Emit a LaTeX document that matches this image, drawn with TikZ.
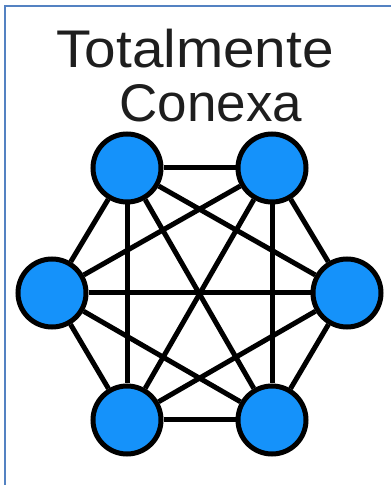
\documentclass[tikz,border=0pt]{standalone}
\usepackage{fontspec}
\setmainfont{Liberation Sans}
\usepackage{xcolor}
\usetikzlibrary{positioning}
\definecolor{netBlue}{HTML}{1592FA}
\definecolor{frameBlue}{HTML}{5482C2}
\definecolor{inkGray}{HTML}{1E1E1E}
\tikzset{
  vert/.style={circle,draw=black,fill=netBlue,line width=5pt,minimum size=68pt,inner sep=0pt},
  link/.style={draw=black,line width=5pt},
  title/.style={anchor=base,text=inkGray,font=\fontsize{53}{60}\selectfont}
}
\begin{document}
\begin{tikzpicture}[x=1pt,y=1pt]
  \useasboundingbox (0,0) rectangle (391,485);
  \fill[white] (0,0) rectangle (391,485);
  % frame
  \draw[frameBlue,line width=2pt] (5,0) -- (5,479) -- (391,479);

  \node[title,xscale=1.07] (t1) at (195,417) {Totalmente};
  \node[title] (t2) at (211,363) {Conexa};

  \node[vert] (tl) at (127,317) {};
  \node[vert] (tr) at (272,317) {};
  \node[vert] (l) at (52,192) {};
  \node[vert] (r) at (347,192) {};
  \node[vert] (bl) at (127,65) {};
  \node[vert] (br) at (272,65) {};

  \foreach \a/\b in {tl/tr,tl/l,tl/r,tl/bl,tl/br,tr/l,tr/r,tr/bl,tr/br,
                     l/r,l/bl,l/br,r/bl,r/br,bl/br}
    \draw[link] (\a) -- (\b);
\end{tikzpicture}
\end{document}
